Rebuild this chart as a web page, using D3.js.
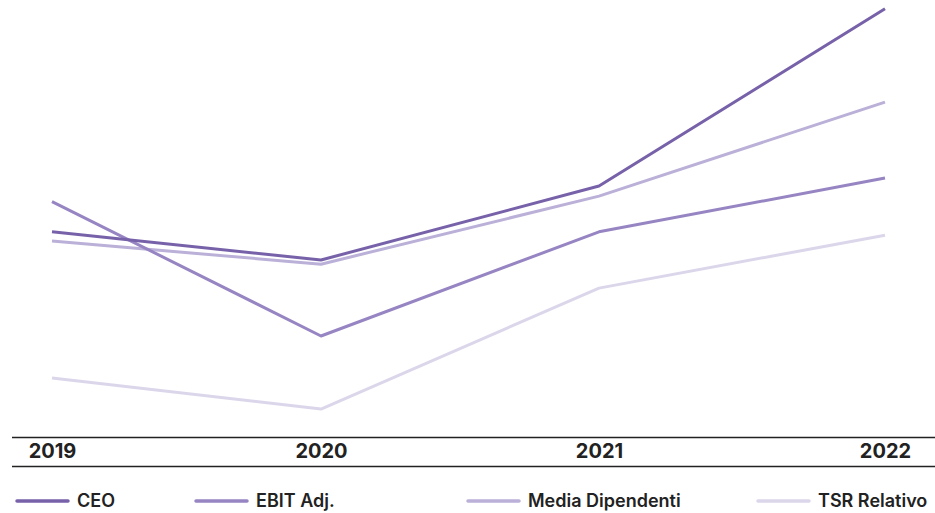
<!DOCTYPE html>
<html>
<head>
<meta charset="utf-8">
<script src="https://cdn.jsdelivr.net/npm/d3@7"></script>
<style>
  body { margin: 0; background: #fff; }
  svg { display: block; font-family: Inter, "Liberation Sans", sans-serif; }
</style>
</head>
<body>
<div id="chart"></div>
<script>
// data (index values)
var years = ["2019", "2020", "2021", "2022"];
var series = ["CEO", "EBIT Adj.", "Media Dipendenti", "TSR Relativo"];
var ceo = [44.8, 38.1, 55.7, 97.9];
var ebit = [52.0, 20.0, 44.8, 57.6];
var media = [42.6, 37.1, 53.3, 75.7];
var tsr = [10.0, 2.6, 31.4, 44.0];

var width = 935,
    height = 513;

var colors = ["#7762aa", "#9685c2", "#bbb0d8", "#dcd6eb"];
var legendX = [17, 196, 468, 758];

var svg = d3.select("#chart").append("svg")
    .attr("width", width)
    .attr("height", height);

// the columns are not evenly spaced in the original
var x = d3.scaleOrdinal()
    .domain(years)
    .range([52, 321, 599, 885]);

var y = d3.scaleLinear()
    .domain([0, 100])
    .range([420, 0]);

var line = d3.line()
    .x(function(d, i) { return x(years[i]); })
    .y(function(d) { return y(d); });

var data = [ceo, ebit, media, tsr];

// lines, lightest drawn first
svg.selectAll("path.series")
    .data(data.slice().reverse())
  .enter().append("path")
    .attr("class", "series")
    .attr("fill", "none")
    .attr("stroke", function(d, i) { return colors[3 - i]; })
    .attr("stroke-width", 3)
    .attr("stroke-linejoin", "round")
    .attr("d", line);

// year band
svg.append("line")
    .attr("x1", 12).attr("x2", width)
    .attr("y1", 437.5).attr("y2", 437.5)
    .attr("stroke", "#222").attr("stroke-width", 1.6);
svg.append("line")
    .attr("x1", 12).attr("x2", width)
    .attr("y1", 466.5).attr("y2", 466.5)
    .attr("stroke", "#222").attr("stroke-width", 1.6);

var xAxis = d3.axisBottom(x).tickSize(0).tickPadding(0);
var gx = svg.append("g")
    .attr("transform", "translate(0,444)")
    .call(xAxis);
gx.select(".domain").remove();
gx.selectAll("text")
    .attr("dy", "0.71em")
    .attr("fill", "#222")
    .style("font-size", "20px")
    .style("font-weight", 700)
    .style("font-family", "Inter, 'Liberation Sans', sans-serif");

// legend
var legend = svg.selectAll("g.legend")
    .data(series)
  .enter().append("g")
    .attr("class", "legend")
    .attr("transform", function(d, i) { return "translate(" + legendX[i] + ",501)"; });

legend.append("line")
    .attr("x1", 0).attr("x2", 51)
    .attr("stroke", function(d, i) { return colors[i]; })
    .attr("stroke-width", 3.5)
    .attr("stroke-linecap", "round");

legend.append("text")
    .attr("x", 60)
    .attr("dy", "0.36em")
    .attr("fill", "#222")
    .style("font-size", "18px")
    .style("font-weight", 600)
    .text(function(d) { return d; });
</script>
</body>
</html>
